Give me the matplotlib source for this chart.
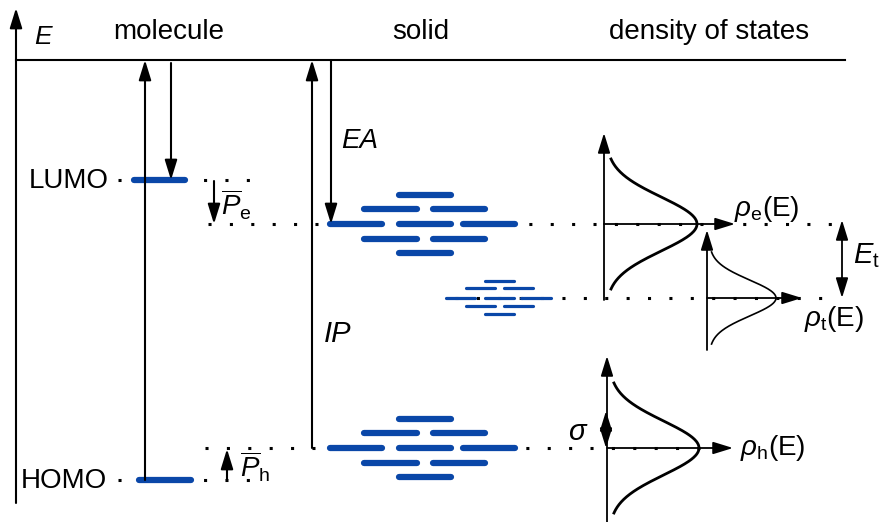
import numpy as np
import matplotlib
matplotlib.use("Agg")
import matplotlib.pyplot as plt

plt.rcParams['font.family'] = ['Liberation Sans', 'DejaVu Sans']
plt.rcParams['mathtext.fontset'] = 'custom'
plt.rcParams['mathtext.rm'] = 'Liberation Sans'
plt.rcParams['mathtext.it'] = 'Liberation Sans:italic'

# energy levels (pixel rows of the schematic, top = vacuum)
vacuum = 60
lumo = 180
homo = 480
e_level = 224
t_level = 298
h_level = 448

# header labels
headers = ['molecule', 'solid', 'density of states']
header_x = [169, 421, 709]

# disordered site clusters: row offsets and bar spans (x0, x1) per row
cluster_rows = [-29, -15, 0, 15, 29]
cluster_bars = [
    [(399, 451)],
    [(364, 417), (433, 485)],
    [(330, 382), (399, 451), (463, 515)],
    [(364, 417), (433, 485)],
    [(399, 451)],
]
trap_rows = [-17, -10, 0, 8, 16]
trap_bars = [
    [(485, 514)],
    [(466, 495), (504, 533)],
    [(446, 475), (485, 514), (521, 551)],
    [(466, 495), (504, 533)],
    [(485, 514)],
]

# gaussian DOS: (axis x, center, amplitude, sigma, half span, line width)
dos_e = (604, e_level, 91, 27, 65, 2.0)
dos_t = (707, t_level, 67, 18, 46, 1.2)
dos_h = (607, h_level, 90, 27, 65, 2.0)

blue = '#0a47a8'

fig = plt.figure(figsize=(8.81, 5.22), dpi=100)
ax = fig.add_axes([0, 0, 1, 1])
ax.set_xlim(0, 881)
ax.set_ylim(522, 0)
ax.axis('off')


def arrow(tail, tip, style='-|>', lw=1.5):
    ax.annotate('', xy=tip, xytext=tail,
                arrowprops=dict(arrowstyle=style + ',head_length=0.55,head_width=0.17',
                                color='k', lw=lw, mutation_scale=22,
                                shrinkA=0, shrinkB=0))


def dots(x0, x1, y):
    ax.plot([x0, x1], [y, y], color='k', lw=2.2, ls=(0, (1, 6)), zorder=1)


# energy axis and vacuum level
arrow((16, 503), (16, 8))
ax.plot([16, 845], [vacuum, vacuum], color='k', lw=1.5)
ax.text(43, 37, 'E', fontsize=19, style='italic', ha='center', va='center')
for h, x in zip(headers, header_x):
    ax.text(x, 32, h, fontsize=20, ha='center', va='center')

# dotted guides
dots(118, 262, lumo)
dots(118, 262, homo)
dots(208, 832, e_level)
dots(455, 836, t_level)
dots(205, 700, h_level)

# molecule
ax.plot([134, 185], [lumo, lumo], color=blue, lw=4.5, solid_capstyle='round', zorder=3)
ax.plot([139, 191], [homo, homo], color=blue, lw=4.5, solid_capstyle='round', zorder=3)
arrow((145, homo), (145, vacuum))
arrow((171, 63), (171, lumo))
ax.text(69, lumo + 1, 'LUMO', fontsize=20, ha='center', va='center')
ax.text(64, homo + 1, 'HOMO', fontsize=20, ha='center', va='center')

# polarization shifts
arrow((214, lumo + 1), (214, e_level))
arrow((227, homo), (227, h_level + 1))
ax.text(221, 205, r'$\overline{P}_{\mathrm{e}}$', fontsize=20, ha='left', va='center')
ax.text(240, 467, r'$\overline{P}_{\mathrm{h}}$', fontsize=20, ha='left', va='center')

# solid
arrow((312, h_level), (312, vacuum))
arrow((331, vacuum), (331, e_level))
ax.text(360, 141, 'EA', fontsize=20, style='italic', ha='center', va='center')
ax.text(338, 334, 'IP', fontsize=21, style='italic', ha='center', va='center')

for level, rows, bars, lw in [(e_level, cluster_rows, cluster_bars, 4.5),
                              (h_level, cluster_rows, cluster_bars, 4.5),
                              (t_level, trap_rows, trap_bars, 2.3)]:
    for dy, row in zip(rows, bars):
        for x0, x1 in row:
            ax.plot([x0, x1], [level + dy, level + dy], color=blue, lw=lw,
                    solid_capstyle='round', zorder=2)

# density of states
for (x0, yc, amp, sig, span, lw), top, bottom, xend in [
        (dos_e, 133, 300, 735),
        (dos_t, 230, 350, 802),
        (dos_h, 356, 522, 733)]:
    y = np.linspace(yc - span, yc + span, 200)
    ax.plot(x0 + 2 + amp * np.exp(-(y - yc) ** 2 / (2 * sig ** 2)), y,
            color='k', lw=lw, zorder=4)
    arrow((x0, bottom), (x0, top), lw=1.3)
    arrow((x0, yc), (xend, yc), lw=1.3)

arrow((842, t_level), (842, e_level - 4), style='<|-|>', lw=1.3)
arrow((606, h_level), (606, 411), style='<|-|>', lw=1.3)

ax.text(734, 209, r'$\rho_{\mathrm{e}}$(E)', fontsize=20, ha='left', va='center')
ax.text(804, 319, r'$\rho_{\mathrm{t}}$(E)', fontsize=20, ha='left', va='center')
ax.text(740, 448, r'$\rho_{\mathrm{h}}$(E)', fontsize=20, ha='left', va='center')
ax.text(853, 256, r'$E_{\mathrm{t}}$', fontsize=21, ha='left', va='center')
ax.text(578, 432, r'$\sigma$', fontsize=21, ha='center', va='center')

fig.savefig('out.png', dpi=100)
